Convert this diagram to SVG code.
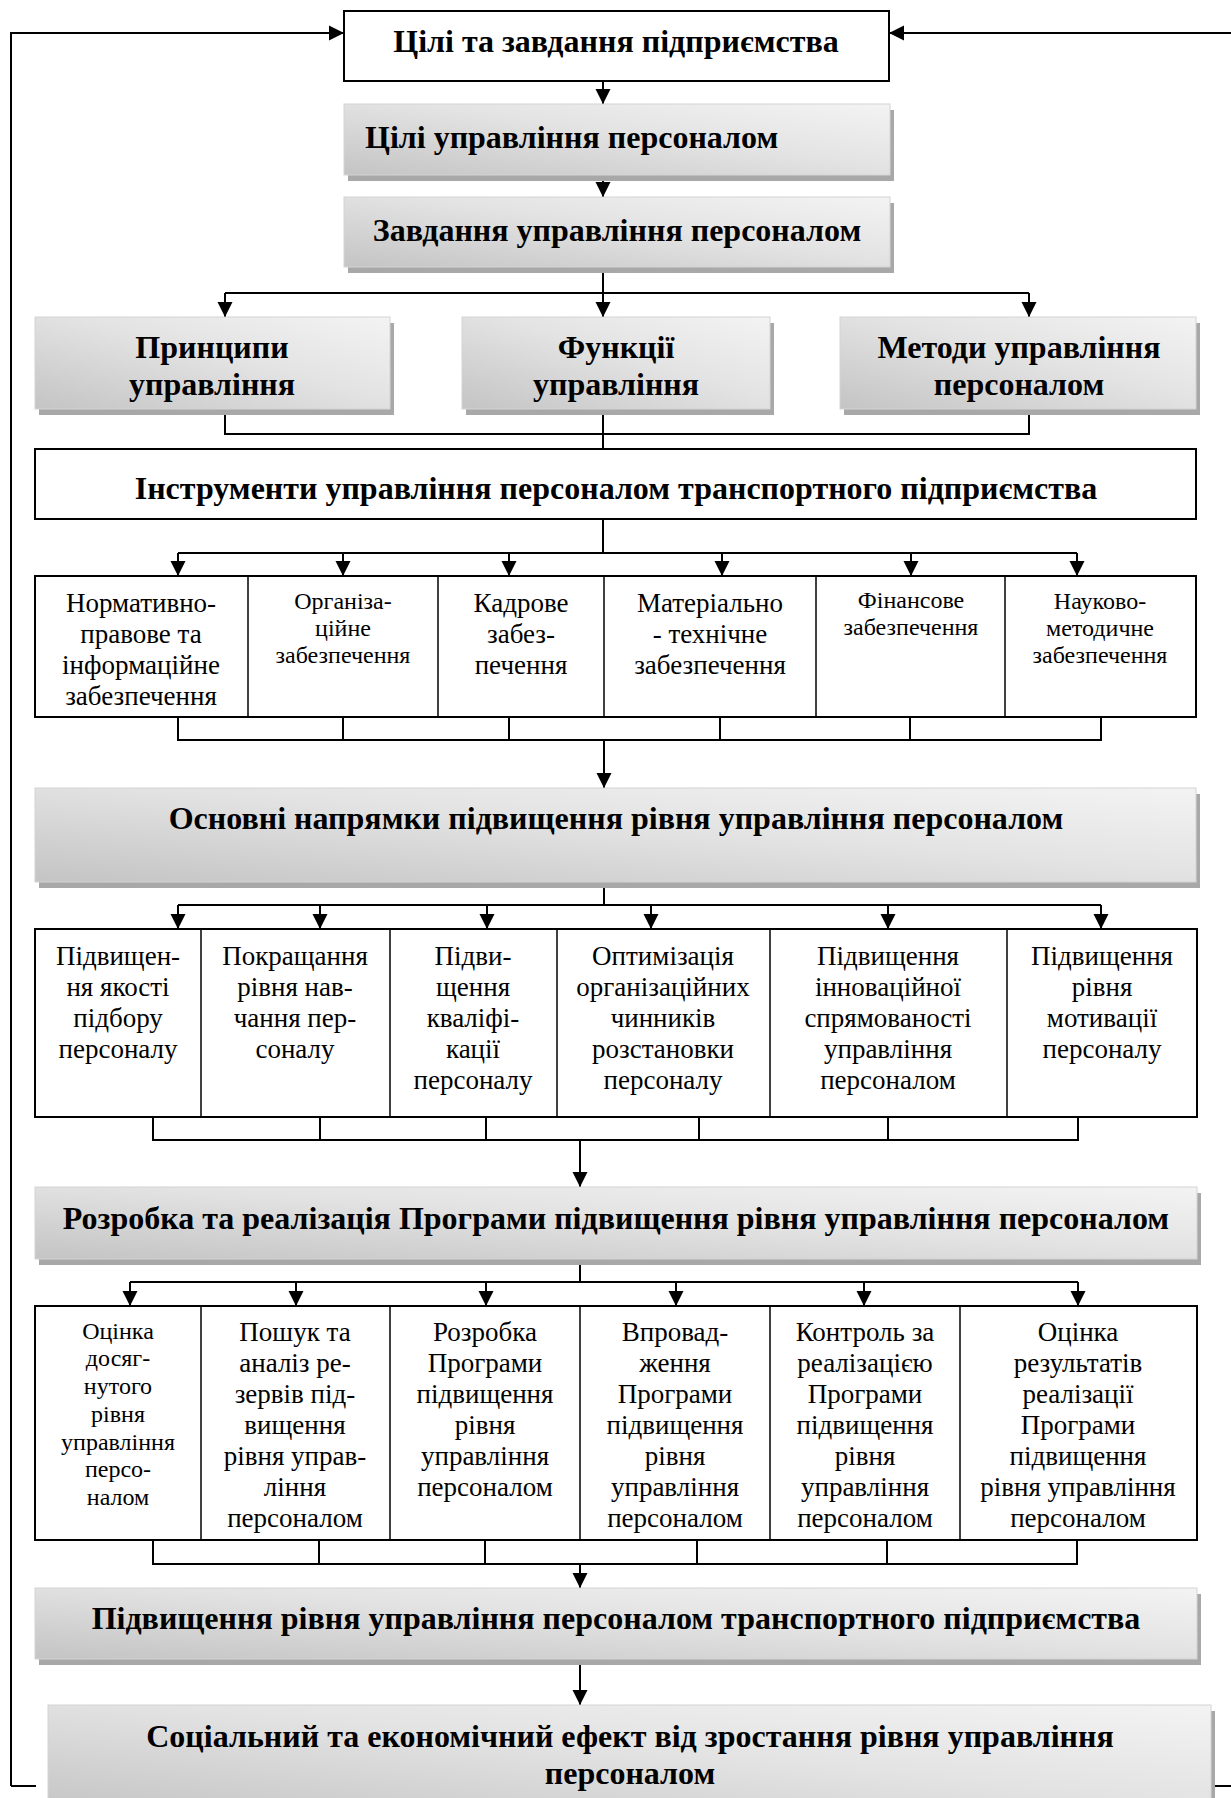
<svg xmlns="http://www.w3.org/2000/svg" width="1231" height="1798" viewBox="0 0 1231 1798">
<defs>
<linearGradient id="g" x1="0" y1="1" x2="1" y2="0">
<stop offset="0" stop-color="#c4c4c4"/>
<stop offset="0.55" stop-color="#e3e3e3"/>
<stop offset="1" stop-color="#f3f3f3"/>
</linearGradient>
<marker id="ah" viewBox="0 0 15 16" markerWidth="15" markerHeight="16" refX="15" refY="8" orient="auto" markerUnits="userSpaceOnUse">
<path d="M0,0.5 L15,8 L0,15.5 z" fill="#000"/>
</marker>
<style>
.box{fill:#fff;stroke:#000;stroke-width:2}
.gb{fill:url(#g);stroke:#d4d4d4;stroke-width:1}
.sh{fill:#a8a8a8}
.ln{stroke:#000;stroke-width:2;fill:none}
.ar{stroke:#000;stroke-width:2;fill:none;marker-end:url(#ah)}
.dv{stroke:#000;stroke-width:1.5}
.t{font-family:"Liberation Serif","Times New Roman",serif;font-weight:700;font-size:32px;fill:#000;text-anchor:middle}
.r{font-family:"Liberation Serif","Times New Roman",serif;font-size:27px;fill:#000;text-anchor:middle}
.s{font-family:"Liberation Serif","Times New Roman",serif;font-size:24px;fill:#000;text-anchor:middle}
</style>
</defs>

<g id="connectors">
<polyline class="ar" points="11,1786 11,33 344,33"/>
<line class="ln" x1="11" y1="1786" x2="36" y2="1786"/>
<line class="ar" x1="1231" y1="33" x2="889" y2="33"/>
<line class="ln" x1="1210" y1="1786" x2="1231" y2="1786"/>
<line class="ar" x1="603" y1="81" x2="603" y2="104"/>
<line class="ar" x1="603" y1="175" x2="603" y2="197"/>
<line class="ln" x1="603" y1="267" x2="603" y2="293"/>
<line class="ln" x1="225" y1="293" x2="1029" y2="293"/>
<line class="ar" x1="225" y1="293" x2="225" y2="317"/>
<line class="ar" x1="603" y1="293" x2="603" y2="317"/>
<line class="ar" x1="1029" y1="293" x2="1029" y2="317"/>
<polyline class="ln" points="225,409 225,434 1029,434 1029,409"/>
<line class="ln" x1="603" y1="409" x2="603" y2="449"/>
<line class="ln" x1="603" y1="519" x2="603" y2="553"/>
<line class="ln" x1="178" y1="553" x2="1077" y2="553"/>
<line class="ar" x1="178" y1="553" x2="178" y2="576"/>
<line class="ar" x1="343" y1="553" x2="343" y2="576"/>
<line class="ar" x1="509" y1="553" x2="509" y2="576"/>
<line class="ar" x1="722" y1="553" x2="722" y2="576"/>
<line class="ar" x1="911" y1="553" x2="911" y2="576"/>
<line class="ar" x1="1077" y1="553" x2="1077" y2="576"/>
<polyline class="ln" points="178,717 178,740 1101,740 1101,717"/>
<line class="ln" x1="343" y1="717" x2="343" y2="740"/>
<line class="ln" x1="509" y1="717" x2="509" y2="740"/>
<line class="ln" x1="720" y1="717" x2="720" y2="740"/>
<line class="ln" x1="910" y1="717" x2="910" y2="740"/>
<line class="ar" x1="604" y1="740" x2="604" y2="788"/>
<line class="ln" x1="604" y1="882" x2="604" y2="905"/>
<line class="ln" x1="178" y1="905" x2="1101" y2="905"/>
<line class="ar" x1="178" y1="905" x2="178" y2="929"/>
<line class="ar" x1="320" y1="905" x2="320" y2="929"/>
<line class="ar" x1="487" y1="905" x2="487" y2="929"/>
<line class="ar" x1="651" y1="905" x2="651" y2="929"/>
<line class="ar" x1="888" y1="905" x2="888" y2="929"/>
<line class="ar" x1="1101" y1="905" x2="1101" y2="929"/>
<polyline class="ln" points="153,1117 153,1140 1078,1140 1078,1117"/>
<line class="ln" x1="320" y1="1117" x2="320" y2="1140"/>
<line class="ln" x1="486" y1="1117" x2="486" y2="1140"/>
<line class="ln" x1="699" y1="1117" x2="699" y2="1140"/>
<line class="ln" x1="888" y1="1117" x2="888" y2="1140"/>
<line class="ar" x1="580" y1="1140" x2="580" y2="1187"/>
<line class="ln" x1="580" y1="1259" x2="580" y2="1282"/>
<line class="ln" x1="130" y1="1282" x2="1078" y2="1282"/>
<line class="ar" x1="130" y1="1282" x2="130" y2="1306"/>
<line class="ar" x1="296" y1="1282" x2="296" y2="1306"/>
<line class="ar" x1="486" y1="1282" x2="486" y2="1306"/>
<line class="ar" x1="676" y1="1282" x2="676" y2="1306"/>
<line class="ar" x1="864" y1="1282" x2="864" y2="1306"/>
<line class="ar" x1="1078" y1="1282" x2="1078" y2="1306"/>
<polyline class="ln" points="153,1540 153,1564 1077,1564 1077,1540"/>
<line class="ln" x1="319" y1="1540" x2="319" y2="1564"/>
<line class="ln" x1="485" y1="1540" x2="485" y2="1564"/>
<line class="ln" x1="697" y1="1540" x2="697" y2="1564"/>
<line class="ln" x1="887" y1="1540" x2="887" y2="1564"/>
<line class="ar" x1="580" y1="1564" x2="580" y2="1588"/>
<line class="ar" x1="580" y1="1659" x2="580" y2="1705"/>
</g>

<g id="n-goals-enterprise">
<rect class="box" x="344" y="11" width="545" height="70"/>
<text class="t" x="616" y="52">Цілі та завдання підприємства</text>
</g>

<g id="n-goals-hr">
<rect class="sh" x="348" y="110" width="546" height="71"/>
<rect class="gb" x="344" y="104" width="546" height="71"/>
<text class="t" x="365" y="148" style="text-anchor:start">Цілі управління персоналом</text>
</g>

<g id="n-tasks-hr">
<rect class="sh" x="348" y="203" width="546" height="70"/>
<rect class="gb" x="344" y="197" width="546" height="70"/>
<text class="t" x="617" y="241">Завдання управління персоналом</text>
</g>

<g id="n-principles">
<rect class="sh" x="39" y="323" width="355" height="92"/>
<rect class="gb" x="35" y="317" width="355" height="92"/>
<text class="t" x="212" y="358">Принципи</text>
<text class="t" x="212" y="395">управління</text>
</g>

<g id="n-functions">
<rect class="sh" x="466" y="323" width="308" height="92"/>
<rect class="gb" x="462" y="317" width="308" height="92"/>
<text class="t" x="616" y="358">Функції</text>
<text class="t" x="616" y="395">управління</text>
</g>

<g id="n-methods">
<rect class="sh" x="844" y="323" width="356" height="92"/>
<rect class="gb" x="840" y="317" width="356" height="92"/>
<text class="t" x="1019" y="358">Методи управління</text>
<text class="t" x="1019" y="395">персоналом</text>
</g>

<g id="n-tools">
<rect class="box" x="35" y="449" width="1161" height="70"/>
<text class="t" x="616" y="499">Інструменти управління персоналом транспортного підприємства</text>
</g>

<g id="n-tools-row">
<rect class="box" x="35" y="576" width="1161" height="141"/>
<line class="dv" x1="248" y1="576" x2="248" y2="717"/>
<line class="dv" x1="438" y1="576" x2="438" y2="717"/>
<line class="dv" x1="604" y1="576" x2="604" y2="717"/>
<line class="dv" x1="816" y1="576" x2="816" y2="717"/>
<line class="dv" x1="1005" y1="576" x2="1005" y2="717"/>
<text class="r"><tspan x="141" y="612">Нормативно-</tspan><tspan x="141" y="643">правове та</tspan><tspan x="141" y="674">інформаційне</tspan><tspan x="141" y="705">забезпечення</tspan></text>
<text class="s"><tspan x="343" y="609">Організа-</tspan><tspan x="343" y="636">ційне</tspan><tspan x="343" y="663">забезпечення</tspan></text>
<text class="r"><tspan x="521" y="612">Кадрове</tspan><tspan x="521" y="643">забез-</tspan><tspan x="521" y="674">печення</tspan></text>
<text class="r"><tspan x="710" y="612">Матеріально</tspan><tspan x="710" y="643">- технічне</tspan><tspan x="710" y="674">забезпечення</tspan></text>
<text class="s"><tspan x="911" y="608">Фінансове</tspan><tspan x="911" y="635">забезпечення</tspan></text>
<text class="s"><tspan x="1100" y="609">Науково-</tspan><tspan x="1100" y="636">методичне</tspan><tspan x="1100" y="663">забезпечення</tspan></text>
</g>

<g id="n-directions">
<rect class="sh" x="39" y="794" width="1161" height="94"/>
<rect class="gb" x="35" y="788" width="1161" height="94"/>
<text class="t" x="616" y="829">Основні напрямки підвищення рівня управління персоналом</text>
</g>

<g id="n-directions-row">
<rect class="box" x="35" y="929" width="1162" height="188"/>
<line class="dv" x1="201" y1="929" x2="201" y2="1117"/>
<line class="dv" x1="390" y1="929" x2="390" y2="1117"/>
<line class="dv" x1="557" y1="929" x2="557" y2="1117"/>
<line class="dv" x1="770" y1="929" x2="770" y2="1117"/>
<line class="dv" x1="1007" y1="929" x2="1007" y2="1117"/>
<text class="r"><tspan x="118" y="965">Підвищен-</tspan><tspan x="118" y="996">ня якості</tspan><tspan x="118" y="1027">підбору</tspan><tspan x="118" y="1058">персоналу</tspan></text>
<text class="r"><tspan x="295" y="965">Покращання</tspan><tspan x="295" y="996">рівня нав-</tspan><tspan x="295" y="1027">чання пер-</tspan><tspan x="295" y="1058">соналу</tspan></text>
<text class="r"><tspan x="473" y="965">Підви-</tspan><tspan x="473" y="996">щення</tspan><tspan x="473" y="1027">кваліфі-</tspan><tspan x="473" y="1058">кації</tspan><tspan x="473" y="1089">персоналу</tspan></text>
<text class="r"><tspan x="663" y="965">Оптимізація</tspan><tspan x="663" y="996">організаційних</tspan><tspan x="663" y="1027">чинників</tspan><tspan x="663" y="1058">розстановки</tspan><tspan x="663" y="1089">персоналу</tspan></text>
<text class="r"><tspan x="888" y="965">Підвищення</tspan><tspan x="888" y="996">інноваційної</tspan><tspan x="888" y="1027">спрямованості</tspan><tspan x="888" y="1058">управління</tspan><tspan x="888" y="1089">персоналом</tspan></text>
<text class="r"><tspan x="1102" y="965">Підвищення</tspan><tspan x="1102" y="996">рівня</tspan><tspan x="1102" y="1027">мотивації</tspan><tspan x="1102" y="1058">персоналу</tspan></text>
</g>

<g id="n-program">
<rect class="sh" x="39" y="1193" width="1162" height="72"/>
<rect class="gb" x="35" y="1187" width="1162" height="72"/>
<text class="t" x="616" y="1229">Розробка та реалізація Програми підвищення рівня управління персоналом</text>
</g>

<g id="n-program-row">
<rect class="box" x="35" y="1306" width="1162" height="234"/>
<line class="dv" x1="201" y1="1306" x2="201" y2="1540"/>
<line class="dv" x1="390" y1="1306" x2="390" y2="1540"/>
<line class="dv" x1="580" y1="1306" x2="580" y2="1540"/>
<line class="dv" x1="770" y1="1306" x2="770" y2="1540"/>
<line class="dv" x1="960" y1="1306" x2="960" y2="1540"/>
<text class="s"><tspan x="118" y="1339">Оцінка</tspan><tspan x="118" y="1366">досяг-</tspan><tspan x="118" y="1394">нутого</tspan><tspan x="118" y="1422">рівня</tspan><tspan x="118" y="1450">управління</tspan><tspan x="118" y="1477">персо-</tspan><tspan x="118" y="1505">налом</tspan></text>
<text class="r"><tspan x="295" y="1341">Пошук та</tspan><tspan x="295" y="1372">аналіз ре-</tspan><tspan x="295" y="1403">зервів під-</tspan><tspan x="295" y="1434">вищення</tspan><tspan x="295" y="1465">рівня управ-</tspan><tspan x="295" y="1496">ління</tspan><tspan x="295" y="1527">персоналом</tspan></text>
<text class="r"><tspan x="485" y="1341">Розробка</tspan><tspan x="485" y="1372">Програми</tspan><tspan x="485" y="1403">підвищення</tspan><tspan x="485" y="1434">рівня</tspan><tspan x="485" y="1465">управління</tspan><tspan x="485" y="1496">персоналом</tspan></text>
<text class="r"><tspan x="675" y="1341">Впровад-</tspan><tspan x="675" y="1372">ження</tspan><tspan x="675" y="1403">Програми</tspan><tspan x="675" y="1434">підвищення</tspan><tspan x="675" y="1465">рівня</tspan><tspan x="675" y="1496">управління</tspan><tspan x="675" y="1527">персоналом</tspan></text>
<text class="r"><tspan x="865" y="1341">Контроль за</tspan><tspan x="865" y="1372">реалізацією</tspan><tspan x="865" y="1403">Програми</tspan><tspan x="865" y="1434">підвищення</tspan><tspan x="865" y="1465">рівня</tspan><tspan x="865" y="1496">управління</tspan><tspan x="865" y="1527">персоналом</tspan></text>
<text class="r"><tspan x="1078" y="1341">Оцінка</tspan><tspan x="1078" y="1372">результатів</tspan><tspan x="1078" y="1403">реалізації</tspan><tspan x="1078" y="1434">Програми</tspan><tspan x="1078" y="1465">підвищення</tspan><tspan x="1078" y="1496">рівня управління</tspan><tspan x="1078" y="1527">персоналом</tspan></text>
</g>

<g id="n-improvement">
<rect class="sh" x="39" y="1594" width="1162" height="71"/>
<rect class="gb" x="35" y="1588" width="1162" height="71"/>
<text class="t" x="616" y="1629">Підвищення рівня управління персоналом транспортного підприємства</text>
</g>

<g id="n-effect">
<rect class="sh" x="52" y="1711" width="1163" height="110"/>
<rect class="gb" x="48" y="1705" width="1163" height="110"/>
<text class="t" x="630" y="1747">Соціальний та економічний ефект від зростання рівня управління</text>
<text class="t" x="630" y="1784">персоналом</text>
</g>
</svg>
